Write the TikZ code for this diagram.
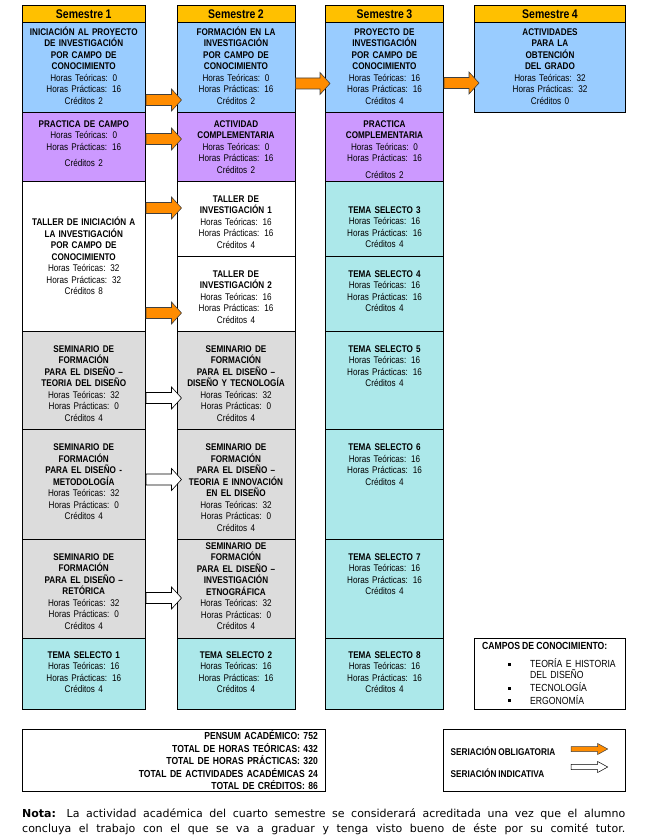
\documentclass[tikz,border=0pt]{standalone}
\usepackage{fontspec}
\setmainfont[FakeStretch=0.84,WordSpace=0.85]{Liberation Sans}
\newfontfamily\notafont{DejaVu Sans}
\usetikzlibrary{positioning,calc}

\definecolor{encabezado}{RGB}{255,192,0}
\definecolor{azul}{RGB}{153,204,255}
\definecolor{morado}{RGB}{204,153,255}
\definecolor{gris}{RGB}{220,220,220}
\definecolor{turquesa}{RGB}{172,232,234}
\definecolor{naranja}{RGB}{255,140,0}

\tikzset{
  caja/.style={draw, line width=1pt, inner sep=0pt},
  col1/.style={minimum width=123.5},
  col2/.style={minimum width=118},
  col3/.style={minimum width=118},
  col4/.style={minimum width=151},
  semestre/.style={caja, fill=encabezado, minimum height=16.5, font=\bfseries\fontsize{12.5}{14}\selectfont},
  texto/.style={anchor=base, align=center, text width=114, inner sep=0pt, font=\fontsize{9.7}{11.5}\selectfont},
  seriacion/.style n args={3}{to path={let \p1=(\tikztostart), \p2=(\tikztotarget) in
    (\x1,\y1-#1) -- (\x2+#3-10pt,\y1-#1) -- (\x2+#3-10pt,\y1-#2) -- (\x2+#3,\y1)
    -- (\x2+#3-10pt,\y1+#2) -- (\x2+#3-10pt,\y1+#1) -- (\x1,\y1+#1) -- cycle}},
  obligatoria/.style={seriacion={5.5pt}{11pt}{5pt}, fill=naranja, draw=black!75, line width=0.6pt},
  indicativa/.style={seriacion={5.5pt}{11pt}{5pt}, fill=white, draw=black, line width=0.6pt},
}

\begin{document}
\begin{tikzpicture}[x=1pt,y=-1pt]
\useasboundingbox (0,0) rectangle (646,837);

% encabezados
\node[semestre, col1] (sem1) at (83.75,14.25) {Semestre 1};
\node[semestre, col2] (sem2) at (236,14.25) {Semestre 2};
\node[semestre, col3] (sem3) at (384.5,14.25) {Semestre 3};
\node[semestre, col4] (sem4) at (550,14.25) {Semestre 4};

% semestre 1
\node[caja, col1, fill=azul, minimum height=90.5] (s1a) at (83.75,67.75) {};
\node[caja, col1, fill=morado, minimum height=68.5] (s1b) at (83.75,147.25) {};
\node[caja, col1, fill=white, minimum height=149.5] (s1c) at (83.75,256.25) {};
\node[caja, col1, fill=gris, minimum height=98] (s1d) at (83.75,380) {};
\node[caja, col1, fill=gris, minimum height=110] (s1e) at (83.75,484) {};
\node[caja, col1, fill=gris, minimum height=99] (s1f) at (83.75,588.5) {};
\node[caja, col1, fill=turquesa, minimum height=71] (s1g) at (83.75,673.5) {};

\node[texto] (s1a-t) at ([yshift=-13.5pt]s1a.north) {{\bfseries INICIACIÓN AL PROYECTO\\DE INVESTIGACIÓN\\POR CAMPO DE\\CONOCIMIENTO}\\Horas Teóricas: 0\\Horas Prácticas: 16\\Créditos 2};
\node[texto] (s1b-t) at ([yshift=-14.8pt]s1b.north) {{\bfseries PRACTICA DE CAMPO}\\Horas Teóricas: 0\\Horas Prácticas: 16\\[5pt]Créditos 2};
\node[texto] (s1c-t) at ([yshift=-44.7pt]s1c.north) {{\bfseries TALLER DE INICIACIÓN A\\LA INVESTIGACIÓN\\POR CAMPO DE\\CONOCIMIENTO}\\Horas Teóricas: 32\\Horas Prácticas: 32\\Créditos 8};
\node[texto] (s1d-t) at ([yshift=-21.8pt]s1d.north) {{\bfseries SEMINARIO DE\\FORMACIÓN\\PARA EL DISEÑO –\\TEORIA DEL DISEÑO}\\Horas Teóricas: 32\\Horas Prácticas: 0\\Créditos 4};
\node[texto] (s1e-t) at ([yshift=-22.2pt]s1e.north) {{\bfseries SEMINARIO DE\\FORMACIÓN\\PARA EL DISEÑO -\\METODOLOGÍA}\\Horas Teóricas: 32\\Horas Prácticas: 0\\Créditos 4};
\node[texto] (s1f-t) at ([yshift=-21.8pt]s1f.north) {{\bfseries SEMINARIO DE\\FORMACIÓN\\PARA EL DISEÑO –\\RETÓRICA}\\Horas Teóricas: 32\\Horas Prácticas: 0\\Créditos 4};
\node[texto] (s1g-t) at ([yshift=-20.5pt]s1g.north) {{\bfseries TEMA SELECTO 1}\\Horas Teóricas: 16\\Horas Prácticas: 16\\Créditos 4};

% semestre 2
\node[caja, col2, fill=azul, minimum height=90.5] (s2a) at (236,67.75) {};
\node[caja, col2, fill=morado, minimum height=68.5] (s2b) at (236,147.25) {};
\node[caja, col2, fill=white, minimum height=74.5] (s2c) at (236,218.75) {};
\node[caja, col2, fill=white, minimum height=75] (s2d) at (236,293.5) {};
\node[caja, col2, fill=gris, minimum height=98] (s2e) at (236,380) {};
\node[caja, col2, fill=gris, minimum height=110] (s2f) at (236,484) {};
\node[caja, col2, fill=gris, minimum height=99] (s2g) at (236,588.5) {};
\node[caja, col2, fill=turquesa, minimum height=71] (s2h) at (236,673.5) {};

\node[texto] (s2a-t) at ([yshift=-13.5pt]s2a.north) {{\bfseries FORMACIÓN EN LA\\INVESTIGACIÓN\\POR CAMPO DE\\CONOCIMIENTO}\\Horas Teóricas: 0\\Horas Prácticas: 16\\Créditos 2};
\node[texto] (s2b-t) at ([yshift=-14.8pt]s2b.north) {{\bfseries ACTIVIDAD\\COMPLEMENTARIA}\\Horas Teóricas: 0\\Horas Prácticas: 16\\Créditos 2};
\node[texto] (s2c-t) at ([yshift=-21.3pt]s2c.north) {{\bfseries TALLER DE\\INVESTIGACIÓN 1}\\Horas Teóricas: 16\\Horas Prácticas: 16\\Créditos 4};
\node[texto] (s2d-t) at ([yshift=-21.8pt]s2d.north) {{\bfseries TALLER DE\\INVESTIGACIÓN 2}\\Horas Teóricas: 16\\Horas Prácticas: 16\\Créditos 4};
\node[texto] (s2e-t) at ([yshift=-21.8pt]s2e.north) {{\bfseries SEMINARIO DE\\FORMACIÓN\\PARA EL DISEÑO –\\DISEÑO Y TECNOLOGÍA}\\Horas Teóricas: 32\\Horas Prácticas: 0\\Créditos 4};
\node[texto] (s2f-t) at ([yshift=-22.2pt]s2f.north) {{\bfseries SEMINARIO DE\\FORMACIÓN\\PARA EL DISEÑO –\\TEORIA E INNOVACIÓN\\EN EL DISEÑO}\\Horas Teóricas: 32\\Horas Prácticas: 0\\Créditos 4};
\node[texto] (s2g-t) at ([yshift=-10.5pt]s2g.north) {{\bfseries SEMINARIO DE\\FORMACIÓN\\PARA EL DISEÑO –\\INVESTIGACIÓN\\ETNOGRÁFICA}\\Horas Teóricas: 32\\Horas Prácticas: 0\\Créditos 4};
\node[texto] (s2h-t) at ([yshift=-20.5pt]s2h.north) {{\bfseries TEMA SELECTO 2}\\Horas Teóricas: 16\\Horas Prácticas: 16\\Créditos 4};

% semestre 3
\node[caja, col3, fill=azul, minimum height=90.5] (s3a) at (384.5,67.75) {};
\node[caja, col3, fill=morado, minimum height=68.5] (s3b) at (384.5,147.25) {};
\node[texto] (s3a-t) at ([yshift=-13.5pt]s3a.north) {{\bfseries PROYECTO DE\\INVESTIGACIÓN\\POR CAMPO DE\\CONOCIMIENTO}\\Horas Teóricas: 16\\Horas Prácticas: 16\\Créditos 4};
\node[texto] (s3b-t) at ([yshift=-14.8pt]s3b.north) {{\bfseries PRACTICA\\COMPLEMENTARIA}\\Horas Teóricas: 0\\Horas Prácticas: 16\\[5pt]Créditos 2};
\foreach \n/\c/\h/\p in {3/218.75/74.5/32.3, 4/293.5/75/21.8, 5/380/98/21.8,
                         6/484/110/22.2, 7/588.5/99/21.5, 8/673.5/71/20.5}{
  \node[caja, col3, fill=turquesa, minimum height=\h] (ts\n) at (384.5,\c) {};
  \node[texto] (ts\n-t) at ([yshift=-\p pt]ts\n.north) {{\bfseries TEMA SELECTO \n}\\Horas Teóricas: 16\\Horas Prácticas: 16\\Créditos 4};
}

% semestre 4
\node[caja, col4, fill=azul, minimum height=90.5] (s4a) at (550,67.75) {};
\node[texto] (s4a-t) at ([yshift=-13.5pt]s4a.north) {{\bfseries ACTIVIDADES\\PARA LA\\OBTENCIÓN\\DEL GRADO}\\Horas Teóricas: 32\\Horas Prácticas: 32\\Créditos 0};

% seriacion
\draw[obligatoria] (s1a.east |- 0,100) to (s2a.west |- 0,100);
\draw[obligatoria] (s1b.east |- 0,139) to (s2b.west |- 0,139);
\draw[obligatoria] (s2a.east |- 0,83.5) to (s3a.west |- 0,83.5);
\draw[obligatoria] (s3a.east |- 0,83) to (s4a.west |- 0,83);
\draw[obligatoria] (s1c.east |- 0,208) to (s2c.west |- 0,208);
\draw[obligatoria] (s1c.east |- 0,313) to (s2d.west |- 0,313);
\draw[indicativa] (s1d.east |- 0,398) to (s2e.west |- 0,398);
\draw[indicativa] (s1e.east |- 0,479.5) to (s2f.west |- 0,479.5);
\draw[indicativa] (s1f.east |- 0,598) to (s2g.west |- 0,598);

% campos de conocimiento
\node[caja, minimum width=151, minimum height=70.7] (campos) at (550,673.65) {};
\node[anchor=base west, inner sep=0pt, font=\bfseries\fontsize{10.3}{12}\selectfont] (campos-t) at (482,649.4) {CAMPOS DE CONOCIMIENTO:};
\node[anchor=base west, inner sep=0pt, align=left, text width=90, font=\fontsize{10.3}{11.2}\selectfont] (campo1) at (530,667.7) {TEORÍA E HISTORIA\\DEL DISEÑO};
\node[anchor=base west, inner sep=0pt, font=\fontsize{10.3}{12}\selectfont] (campo2) at (530,691.7) {TECNOLOGÍA};
\node[anchor=base west, inner sep=0pt, font=\fontsize{10.3}{12}\selectfont] (campo3) at (530,704) {ERGONOMÍA};
\foreach \y in {664,688,700.3}
  \fill (507.5,\y-1.5) rectangle +(3,3);

% totales
\node[caja, minimum width=303, minimum height=62.2] (totales) at (173.5,760.4) {};
\node[anchor=base east, align=right, text width=290, inner sep=0pt, font=\bfseries\fontsize{10.2}{12.5}\selectfont] (totales-t) at (318,739.5) {PENSUM ACADÉMICO: 752\\TOTAL DE HORAS TEÓRICAS: 432\\TOTAL DE HORAS PRÁCTICAS: 320\\TOTAL DE ACTIVIDADES ACADÉMICAS 24\\TOTAL DE CRÉDITOS: 86};

% leyenda
\node[caja, minimum width=182, minimum height=62.2] (leyenda) at (534.5,760.4) {};
\node[anchor=base west, inner sep=0pt, font=\bfseries\fontsize{9.8}{12}\selectfont] (oblig-t) at (450.5,755.8) {SERIACIÓN OBLIGATORIA};
\node[anchor=base west, inner sep=0pt, font=\bfseries\fontsize{9.8}{12}\selectfont] (indic-t) at (450.5,777.5) {SERIACIÓN INDICATIVA};
\coordinate (oblig-a) at (571,749);
\coordinate (oblig-b) at (607.7,749);
\coordinate (indic-a) at (571,767);
\coordinate (indic-b) at (607.7,767);
\draw[seriacion={2.5pt}{5.5pt}{0pt}, fill=naranja, draw=black!75, line width=0.5pt] (oblig-a) to (oblig-b);
\draw[seriacion={2.6pt}{5.5pt}{0pt}, fill=white, draw=black, line width=0.5pt] (indic-a) to (indic-b);

% nota
\node[anchor=base west, text width=603, align=justify, inner sep=0pt, font=\notafont\fontsize{11}{15.5}\selectfont] (nota) at (22,817) {\tolerance=10000 \textbf{Nota:} La actividad académica del cuarto semestre se considerará acreditada una vez que el alumno\linebreak concluya el trabajo con el que se va a graduar y tenga visto bueno de éste por su comité tutor.\parfillskip=0pt\par};

\end{tikzpicture}
\end{document}
